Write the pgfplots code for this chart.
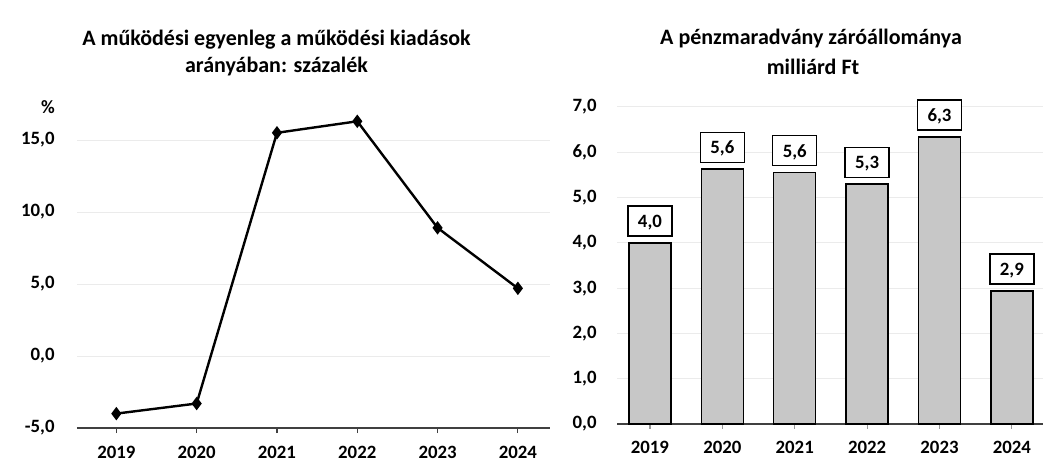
\documentclass[border=0pt]{standalone}
\usepackage{fontspec}
\setmainfont{Carlito}
\usepackage{pgfplots}
\pgfplotsset{compat=1.18}
\newcommand{\tf}{\fontsize{9.4}{11}\selectfont\bfseries}
\newcommand{\ttl}{\fontsize{11}{13}\selectfont\bfseries}
\begin{document}
\begin{tikzpicture}
\path[use as bounding box] (0,0) rectangle (521.5pt,232.5pt);
\node[font=\ttl] at (138.25pt,212.5pt) {A működési egyenleg a működési kiadások};
\node[font=\ttl] at (138.25pt,199pt) {arányában: százalék};
\node[font=\ttl] at (405.5pt,213pt) {A pénzmaradvány záróállománya};
\node[font=\ttl] at (406.5pt,199pt) {milliárd Ft};
\node[font=\tf] at (24pt,179pt) {\%};

\begin{axis}[
  at={(38.5pt,18.5pt)}, anchor=south west,
  scale only axis, width=236.5pt, height=158.4pt,
  xmin=-0.49, xmax=5.4, ymin=-5, ymax=17,
  axis lines*=left, separate axis lines,
  y axis line style={draw=none},
  x axis line style={-, black!75, line width=0.75pt},
  ytick={-5,0,5,10,15}, yticklabels={{-5,0},{0,0},{5,0},{10,0},{15,0}},
  ytick style={draw=none},
  yticklabel style={font=\tf, anchor=east, inner sep=0pt, xshift=-11pt},
  xtick={0,...,5}, xticklabels={2019,2020,2021,2022,2023,2024},
  xtick align=outside, major tick length=2.5pt,
  xtick style={black!75, line width=0.6pt},
  xticklabel style={font=\tf, anchor=north, inner sep=0pt, yshift=-6.5pt},
  ymajorgrids, grid style={black!8, line width=0.5pt},
]
\addplot[black, line width=1.2pt, mark=diamond*, mark size=2.4pt]
  coordinates {(0,-4.0) (1,-3.3) (2,15.5) (3,16.3) (4,8.9) (5,4.7)};
\end{axis}

\begin{axis}[
  at={(308.5pt,20.5pt)}, anchor=south west,
  scale only axis, width=213pt, height=158.5pt,
  xmin=-0.455, xmax=5.43, ymin=0, ymax=7, clip=false,
  ybar, bar width=21pt,
  axis lines*=left, separate axis lines,
  y axis line style={draw=none},
  x axis line style={-, black!75, line width=0.75pt},
  ytick={0,1,2,3,4,5,6,7}, yticklabels={{0,0},{1,0},{2,0},{3,0},{4,0},{5,0},{6,0},{7,0}},
  ytick style={draw=none},
  yticklabel style={font=\tf, anchor=east, inner sep=0pt, xshift=-10pt},
  xtick={0,...,5}, xticklabels={2019,2020,2021,2022,2023,2024},
  xtick align=outside, major tick length=2.5pt,
  xtick style={black!40, line width=0.6pt},
  xticklabel style={font=\tf, anchor=north, inner sep=0pt, yshift=-6pt},
  ymajorgrids, grid style={black!8, line width=0.5pt},
]
\addplot[fill=black!22, draw=black, line width=0.7pt,
  point meta=explicit symbolic, nodes near coords,
  nodes near coords style={font=\tf, draw=black, fill=white, line width=0.7pt,
    minimum width=22pt, text height=6.6pt, text depth=0pt, inner xsep=0pt, inner ysep=4.2pt,
    anchor=south, yshift=3pt}]
  coordinates {(0,4.0)[4,0] (1,5.63)[5,6] (2,5.56)[5,6] (3,5.3)[5,3] (4,6.34)[6,3] (5,2.94)[2,9]};
\end{axis}
\end{tikzpicture}
\end{document}
